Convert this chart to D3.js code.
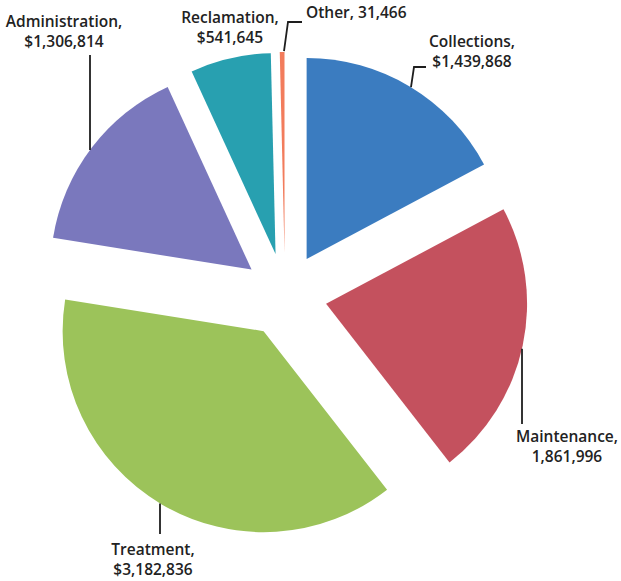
<!DOCTYPE html>
<html>
<head>
<meta charset="utf-8">
<script src="https://cdn.jsdelivr.net/npm/d3@7"></script>
<style>
  html, body { margin: 0; padding: 0; background: #fff; }
  svg { display: block; }
  .lbl { font-family: "Open Sans", "Liberation Sans", sans-serif; font-size: 15.5px; font-weight: 600; fill: #222; }
</style>
</head>
<body>
<svg id="chart" width="621" height="581"></svg>
<script>
// Operating expenses by division
const categories = ["Collections", "Maintenance", "Treatment", "Administration", "Reclamation", "Other"];
const values = [1439868, 1861996, 3182836, 1306814, 541645, 31466];
const valuePrefixes = ["$", "", "$", "$", "$", ""];
const sliceColors = ["#3b7cc0", "#c4515e", "#9cc35a", "#7a78bd", "#28a0b0", "#f27c5c"];

const svg = d3.select("#chart");
const cx = 285, cy = 295, R = 201, explode = 42;

const pie = d3.pie().sort(null).value(d => d.value).startAngle(0).endAngle(2 * Math.PI);
const arc = d3.arc().innerRadius(0).outerRadius(R);

const rows = categories.map((c, i) => ({ name: c, value: values[i], prefix: valuePrefixes[i], color: sliceColors[i] }));
const slices = pie(rows);

// each slice pushed outward along its middle angle
slices.forEach(s => {
  const mid = (s.startAngle + s.endAngle) / 2;
  s.ox = cx + explode * Math.sin(mid);
  s.oy = cy - explode * Math.cos(mid);
});

svg.append("g").selectAll("path")
  .data(slices)
  .join("path")
  .attr("transform", s => `translate(${s.ox},${s.oy})`)
  .attr("d", arc)
  .attr("fill", s => s.data.color);

// y on a slice's outer edge for a given x (upper or lower half)
function edgeY(s, x, upper) {
  const dx = x - s.ox;
  const h = Math.sqrt(Math.max(0, R * R - dx * dx));
  return upper ? s.oy - h : s.oy + h;
}

const fmt = d3.format(",");
const byName = {};
slices.forEach(s => byName[s.data.name] = s);

// label placement: text anchor point and leader polyline
const layout = {
  "Collections":    { x: 472, y: 47, anchor: "middle", lines: 2,
                      leader: s => [[411, edgeY(s, 411, true)], [414, 67], [426, 67]] },
  "Maintenance":    { x: 567, y: 442, anchor: "middle", lines: 2,
                      leader: s => [[522, edgeY(s, 522, false)], [522, 424]] },
  "Treatment":      { x: 153, y: 555, anchor: "middle", lines: 2,
                      leader: s => [[160, edgeY(s, 160, false)], [160, 534]] },
  "Administration": { x: 64, y: 27, anchor: "middle", lines: 2,
                      leader: s => [[90, edgeY(s, 90, true)], [90, 55]] },
  "Reclamation":    { x: 230, y: 23, anchor: "middle", lines: 2, leader: null },
  "Other":          { x: 306, y: 18, anchor: "start", lines: 1,
                      leader: s => [[284, edgeY(s, 284, true) - 1], [288, 22], [302, 22]] }
};

const line = d3.line();
const labels = svg.append("g");
categories.forEach(name => {
  const s = byName[name];
  const L = layout[name];
  if (L.leader) {
    labels.append("path")
      .attr("d", line(L.leader(s)))
      .attr("fill", "none")
      .attr("stroke", "#1e1e1e")
      .attr("stroke-width", 1.8);
  }
  const valueText = s.data.prefix + fmt(s.data.value);
  const t = labels.append("text")
    .attr("class", "lbl")
    .attr("text-anchor", L.anchor)
    .attr("x", L.x)
    .attr("y", L.y);
  if (L.lines === 2) {
    t.append("tspan").attr("x", L.x).text(name + ",");
    t.append("tspan").attr("x", L.x).attr("dy", 20).text(valueText);
  } else {
    t.text(name + ", " + valueText);
  }
});
</script>
</body>
</html>
